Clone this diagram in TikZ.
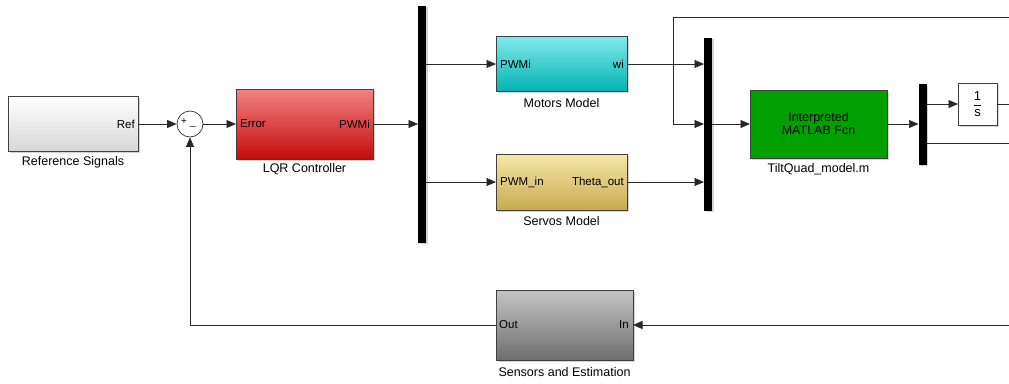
\documentclass[tikz,border=0pt]{standalone}
\usepackage{fontspec}
\setmainfont{Liberation Sans}
\usetikzlibrary{arrows.meta,shadows}
\definecolor{lqrtop}{RGB}{242,130,130}
\definecolor{lqrbot}{RGB}{196,12,12}
\definecolor{mottop}{RGB}{130,234,234}
\definecolor{motbot}{RGB}{0,178,178}
\definecolor{sertop}{RGB}{244,232,172}
\definecolor{serbot}{RGB}{200,170,78}
\definecolor{sentop}{RGB}{196,196,196}
\definecolor{senbot}{RGB}{110,110,110}
\definecolor{fcngreen}{RGB}{0,160,0}
\definecolor{wire}{RGB}{40,40,40}
\begin{document}
\begin{tikzpicture}[x=1pt,y=-1pt,
  blk/.style={draw=black!75, line width=0.8pt, inner sep=0pt, outer sep=0pt,
    drop shadow={shadow xshift=1.5pt,shadow yshift=-1.5pt,opacity=0.35}},
  muxbar/.style={fill=black, inner sep=0pt, outer sep=0pt, minimum width=8,
    drop shadow={shadow xshift=1.5pt,shadow yshift=-1.5pt,opacity=0.35}},
  lbl/.style={font=\fontsize{12.5}{14}\selectfont, inner sep=0pt},
  port/.style={font=\fontsize{11.5}{13}\selectfont, inner sep=0pt},
  sig/.style={draw=wire, line width=0.7pt, -{Triangle[length=9.5pt,width=8pt]}},
  wireline/.style={draw=wire, line width=0.7pt}
]
\useasboundingbox (0,0) rectangle (1009,383);

% blocks
\node[blk, top color=white, bottom color=black!16, minimum width=130, minimum height=55] (refsig) at (73,124) {};
\node[port, anchor=east] (refport) at ([xshift=-3pt]refsig.east) {Ref};
\node[lbl] (reflbl) at (73,162) {Reference Signals};

\node[circle, draw=black!80, line width=0.7pt, fill=white, minimum size=26, inner sep=0pt] (sum) at (190,124) {};
\node[inner sep=0pt, font=\fontsize{10}{10}\selectfont] (sumplus) at (184,122) {+};
\node[inner sep=0pt, font=\fontsize{10}{10}\selectfont] (summinus) at (193,126) {\_};

\node[blk, top color=lqrtop, bottom color=lqrbot, minimum width=137, minimum height=70] (lqr) at (304.5,124) {};
\node[port, anchor=west] (lqrin) at ([xshift=4pt]lqr.west) {Error};
\node[port, anchor=east] (lqrout) at ([xshift=-3pt]lqr.east) {PWMi};
\node[lbl] (lqrlbl) at (304.5,169) {LQR Controller};

\node[muxbar, minimum height=237] (mux1) at (422,124) {};

\node[blk, top color=mottop, bottom color=motbot, minimum width=131, minimum height=55] (motors) at (561.5,64) {};
\node[port, anchor=west] (motin) at ([xshift=4pt]motors.west) {PWMi};
\node[port, anchor=east] (motout) at ([xshift=-3pt]motors.east) {wi};
\node[lbl] (motlbl) at (561.5,103) {Motors Model};

\node[blk, top color=sertop, bottom color=serbot, minimum width=131, minimum height=56] (servos) at (561.5,182) {};
\node[port, anchor=west] (serin) at ([xshift=4pt]servos.west) {PWM\_in};
\node[port, anchor=east] (serout) at ([xshift=-3pt]servos.east) {Theta\_out};
\node[lbl] (serlbl) at (561.5,221) {Servos Model};

\node[muxbar, minimum height=173] (mux2) at (708,124) {};

\node[blk, fill=fcngreen, minimum width=137, minimum height=68, align=center,
  font=\fontsize{12.5}{13}\selectfont] (fcn) at (818.5,124) {Interpreted\\MATLAB Fcn};
\node[lbl] (fcnlbl) at (818.5,169) {TiltQuad\_model.m};

\node[muxbar, minimum height=81] (mux3) at (922.5,124) {};

\node[blk, fill=white, minimum width=39, minimum height=42, font=\fontsize{13}{14}\selectfont] (integ) at (977.5,104) {$\displaystyle\frac{\mbox{1}}{\mbox{s}}$};

\node[blk, top color=sentop, bottom color=senbot, minimum width=137, minimum height=70] (sens) at (564.5,325) {};
\node[port, anchor=west] (sensout) at ([xshift=3pt]sens.west) {Out};
\node[port, anchor=east] (sensin) at ([xshift=-4pt]sens.east) {In};
\node[lbl] (senslbl) at (564.5,372) {Sensors and Estimation};

% free ends
\coordinate (topright) at (1009,17);
\coordinate (topleft) at (673,17);
\coordinate (integend) at (1009,104);
\coordinate (lowend) at (1009,143);
\coordinate (sensend) at (1009,325);

% connectors
\draw[sig] (refsig.east) -- (sum.west);
\draw[sig] (sum.east) -- (lqr.west);
\draw[sig] (lqr.east) -- (lqr.east -| mux1.west);
\draw[sig] (mux1.east |- motors.west) -- (motors.west);
\draw[sig] (mux1.east |- servos.west) -- (servos.west);
\draw[sig] (motors.east) -- (motors.east -| mux2.west);
\draw[sig] (servos.east) -- (servos.east -| mux2.west);
\draw[sig] (topright) -- (topleft) |- (mux2.west |- fcn.west);
\draw[sig] (mux2.east |- fcn.west) -- (fcn.west);
\draw[sig] (fcn.east) -- (fcn.east -| mux3.west);
\draw[sig] (mux3.east |- integ.west) -- (integ.west);
\draw[wireline] (integ.east) -- (integend);
\draw[wireline] (mux3.east |- lowend) -- (lowend);
\draw[sig] (sensend) -- (sens.east);
\draw[sig] (sens.west) -| (sum.south);
\end{tikzpicture}
\end{document}
